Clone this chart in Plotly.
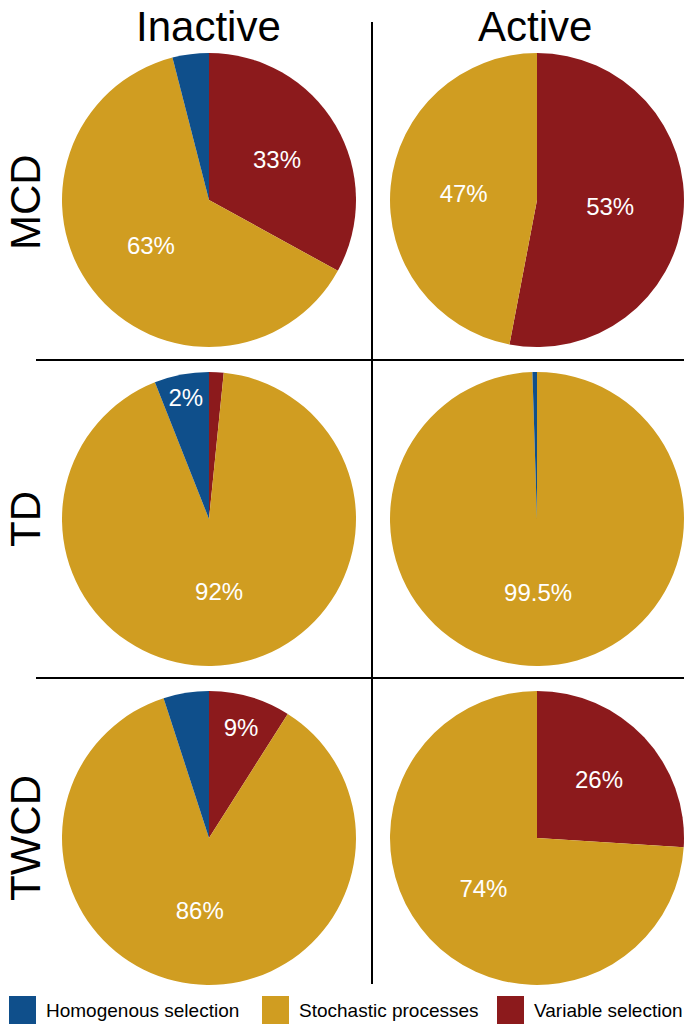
import plotly.graph_objects as go

W, H = 685, 1026

categories = ["Variable selection", "Stochastic processes", "Homogenous selection"]
legend_order = ["Homogenous selection", "Stochastic processes", "Variable selection"]
colors = {"Variable selection": "#8C1A1C", "Stochastic processes": "#D09D21",
          "Homogenous selection": "#0F4F8B"}

columns = ["Inactive", "Active"]
rows = ["MCD", "TD", "TWCD"]

# values in order of `categories` (clockwise from 12 o'clock)
mcd_inactive = [33, 63, 4]
mcd_active = [53, 47, 0]
td_inactive = [1.6, 92.4, 6]
td_active = [0, 99.5, 0.5]
twcd_inactive = [9, 86, 5]
twcd_active = [26, 74, 0]

mcd_inactive_text = ["33%", "63%", ""]
mcd_active_text = ["53%", "47%", ""]
td_inactive_text = ["", "92%", "2%"]
td_active_text = ["", "99.5%", ""]
twcd_inactive_text = ["9%", "86%", ""]
twcd_active_text = ["26%", "74%", ""]

pies = [
    [(mcd_inactive, mcd_inactive_text), (mcd_active, mcd_active_text)],
    [(td_inactive, td_inactive_text), (td_active, td_active_text)],
    [(twcd_inactive, twcd_inactive_text), (twcd_active, twcd_active_text)],
]

# pixel layout
col_x = [(62, 356), (390, 684)]
row_y = [(53, 347), (372, 666), (691, 985)]

FONT = "Liberation Sans, Arial, Helvetica, sans-serif"

fig = go.Figure()
for r, row in enumerate(pies):
    for c, (vals, txt) in enumerate(row):
        x0, x1 = col_x[c]
        y0, y1 = row_y[r]
        fig.add_trace(go.Pie(
            labels=categories, values=vals, text=txt,
            textinfo="text", sort=False, direction="clockwise", rotation=0,
            marker=dict(colors=[colors[k] for k in categories], line=dict(width=0)),
            textposition="inside", insidetextorientation="horizontal",
            insidetextfont=dict(color="white", size=24, family=FONT),
            hoverinfo="label+percent",
            domain=dict(x=[x0 / W, x1 / W], y=[1 - y1 / H, 1 - y0 / H]),
            showlegend=False,
        ))

shapes = []
# separators
shapes.append(dict(type="line", xref="paper", yref="paper",
                   x0=372 / W, x1=372 / W, y0=1 - 22 / H, y1=1 - 984 / H,
                   line=dict(color="black", width=2)))
for yy in (360, 678):
    shapes.append(dict(type="line", xref="paper", yref="paper",
                       x0=36 / W, x1=684 / W, y0=1 - yy / H, y1=1 - yy / H,
                       line=dict(color="black", width=2)))

annotations = []
col_centers = [208, 535]
for name, cx in zip(columns, col_centers):
    annotations.append(dict(text=name, x=cx / W, y=1 - 26 / H, xref="paper", yref="paper",
                            showarrow=False, xanchor="center", yanchor="middle",
                            font=dict(size=42, color="black", family=FONT)))
row_centers = [202, 519, 838]
for name, cy in zip(rows, row_centers):
    annotations.append(dict(text=name, x=25 / W, y=1 - cy / H, xref="paper", yref="paper",
                            showarrow=False, xanchor="center", yanchor="middle", textangle=-90,
                            font=dict(size=42, color="black", family=FONT)))

# custom legend
leg_x = [9, 262, 497]
for name, lx in zip(legend_order, leg_x):
    shapes.append(dict(type="rect", xref="paper", yref="paper",
                       x0=lx / W, x1=(lx + 27) / W, y0=1 - 1024 / H, y1=1 - 996 / H,
                       fillcolor=colors[name], line=dict(width=0)))
    annotations.append(dict(text=name, x=(lx + 35) / W, y=1 - 1010 / H, xref="paper", yref="paper",
                            showarrow=False, xanchor="left", yanchor="middle",
                            font=dict(size=19, color="black", family=FONT)))

fig.update_layout(width=W, height=H, margin=dict(l=0, r=0, t=0, b=0),
                  paper_bgcolor="white", plot_bgcolor="white",
                  shapes=shapes, annotations=annotations)

fig.write_html("out.html", config={"displayModeBar": False},
               post_script="document.body.style.margin='0';document.body.style.overflow='hidden';")
